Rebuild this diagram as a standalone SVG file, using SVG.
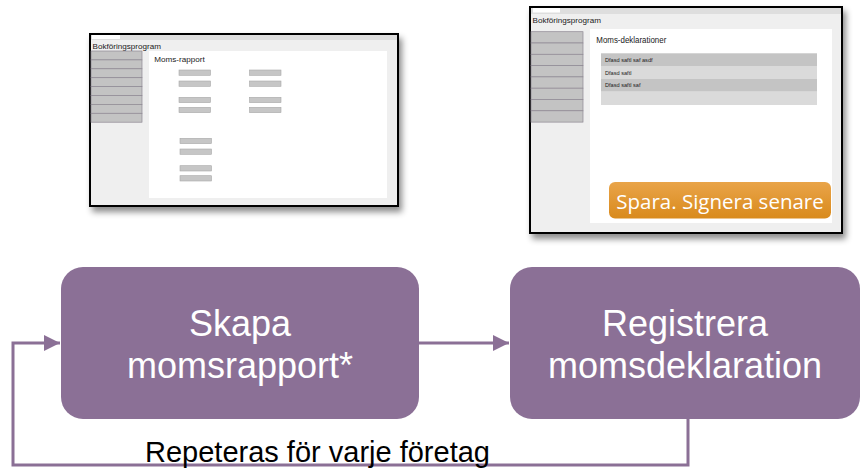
<svg xmlns="http://www.w3.org/2000/svg" width="861" height="468" viewBox="0 0 861 468">
<defs>
<style>
.box{fill:#8B7096}
.btxt{font-family:"Liberation Sans",Arial,sans-serif;font-size:36px;fill:#ffffff;text-anchor:middle}
.conn{fill:none;stroke:#8B7096;stroke-width:3}
.lbl{font-family:"Liberation Sans",Arial,sans-serif;font-size:29px;fill:#000000}
.win{fill:#EFEFEF;stroke:#000000;stroke-width:2}
.strip{fill:#DEDEDE}
.tab{fill:#ffffff}
.panel{fill:#ffffff}
.cell{fill:#C3C3C3;stroke:#8E8893;stroke-width:0.7}
.fld{fill:#C6C6C6;stroke:#A8A8A8;stroke-width:0.6}
.st{font-family:"Liberation Sans",Arial,sans-serif;fill:#1A1A1A}
</style>
<filter id="sh" x="-10%" y="-10%" width="125%" height="130%">
<feDropShadow dx="3" dy="5" stdDeviation="3" flood-color="#000000" flood-opacity="0.45"/>
</filter>
<linearGradient id="og" x1="0" y1="0" x2="0" y2="1">
<stop offset="0" stop-color="#E9A449"/>
<stop offset="1" stop-color="#D98A1C"/>
</linearGradient>
<marker id="ah" viewBox="0 0 10 10" refX="10" refY="5" markerWidth="5.4" markerHeight="5.4" markerUnits="strokeWidth" orient="auto">
<path d="M0,0 L10,5 L0,10 Z" fill="#8B7096"/>
</marker>
</defs>

<g id="screen1">
<rect class="win" x="90" y="34" width="308" height="172" filter="url(#sh)"/>
<rect class="strip" x="91" y="35" width="306" height="5"/>
<rect class="tab" x="92" y="35" width="28" height="4"/>
<text class="st" x="92.5" y="48.5" font-size="8.1">Bokföringsprogram</text>
<rect class="panel" x="149" y="51" width="238" height="147"/>
<rect class="cell" x="91" y="51" width="51" height="8.9"/>
<rect class="cell" x="91" y="59.9" width="51" height="8.9"/>
<rect class="cell" x="91" y="68.8" width="51" height="8.9"/>
<rect class="cell" x="91" y="77.7" width="51" height="8.9"/>
<rect class="cell" x="91" y="86.6" width="51" height="8.9"/>
<rect class="cell" x="91" y="95.5" width="51" height="8.9"/>
<rect class="cell" x="91" y="104.4" width="51" height="8.9"/>
<rect class="cell" x="91" y="113.3" width="51" height="8.9"/>
<text class="st" x="154.3" y="61.7" font-size="8.1">Moms-rapport</text>
<rect class="fld" x="179" y="70" width="31.5" height="5.3"/>
<rect class="fld" x="179" y="81" width="31.5" height="5.3"/>
<rect class="fld" x="179" y="97.3" width="31.5" height="5.3"/>
<rect class="fld" x="179" y="107.3" width="31.5" height="5.3"/>
<rect class="fld" x="249.5" y="70" width="31.5" height="5.3"/>
<rect class="fld" x="249.5" y="81" width="31.5" height="5.3"/>
<rect class="fld" x="249.5" y="97.3" width="31.5" height="5.3"/>
<rect class="fld" x="249.5" y="107.3" width="31.5" height="5.3"/>
<rect class="fld" x="180" y="138.3" width="31.5" height="5.3"/>
<rect class="fld" x="180" y="149" width="31.5" height="5.3"/>
<rect class="fld" x="180" y="165.7" width="31.5" height="5.3"/>
<rect class="fld" x="180" y="175.7" width="31.5" height="5.3"/>
</g>

<g id="screen2">
<rect class="win" x="530" y="7" width="312" height="226" filter="url(#sh)"/>
<rect class="strip" x="531" y="8" width="310" height="6"/>
<rect class="tab" x="533" y="8" width="27" height="4.5"/>
<text class="st" x="532.5" y="23.3" font-size="8.1">Bokföringsprogram</text>
<rect class="panel" x="590" y="29" width="242" height="194"/>
<rect class="cell" x="531" y="31.7" width="52" height="11.3"/>
<rect class="cell" x="531" y="43" width="52" height="11.3"/>
<rect class="cell" x="531" y="54.3" width="52" height="11.3"/>
<rect class="cell" x="531" y="65.6" width="52" height="11.3"/>
<rect class="cell" x="531" y="76.9" width="52" height="11.3"/>
<rect class="cell" x="531" y="88.2" width="52" height="11.3"/>
<rect class="cell" x="531" y="99.5" width="52" height="11.3"/>
<rect class="cell" x="531" y="110.8" width="52" height="11.3"/>
<text class="st" x="596.3" y="42.5" font-size="9" textLength="70" lengthAdjust="spacingAndGlyphs">Moms-deklarationer</text>
<rect x="601" y="53.3" width="216" height="12.7" fill="#C4C4C4"/>
<rect x="601" y="66" width="216" height="13" fill="#DADADA"/>
<rect x="601" y="79" width="216" height="12.7" fill="#C4C4C4"/>
<rect x="601" y="91.7" width="216" height="13.3" fill="#DADADA"/>
<text class="st" x="605" y="61.5" font-size="5.6">Dfasd  saftl saf asdf</text>
<text class="st" x="605" y="74.5" font-size="5.6">Dfasd  saftl</text>
<text class="st" x="605" y="87.2" font-size="5.6">Dfasd  saftl saf</text>
<rect x="609" y="182" width="222" height="36.5" rx="6" fill="url(#og)"/>
<text x="720" y="209" font-family="'Open Sans','Noto Sans',sans-serif" font-size="20.5" fill="#ffffff" text-anchor="middle">Spara. Signera senare</text>
</g>

<g id="connectors">
<line class="conn" x1="419" y1="343" x2="509" y2="343" marker-end="url(#ah)"/>
<polyline class="conn" points="688,419 688,465 13,465 13,343 60,343" marker-end="url(#ah)"/>
</g>

<g id="node-skapa">
<rect class="box" x="61" y="267" width="358" height="152" rx="22"/>
<text class="btxt" x="240" y="336">Skapa</text>
<text class="btxt" x="240" y="378">momsrapport*</text>
</g>

<g id="node-registrera">
<rect class="box" x="510" y="267" width="350" height="152" rx="22"/>
<text class="btxt" x="685" y="336">Registrera</text>
<text class="btxt" x="685" y="378">momsdeklaration</text>
</g>

<text class="lbl" x="145" y="462">Repeteras för varje företag</text>
</svg>
